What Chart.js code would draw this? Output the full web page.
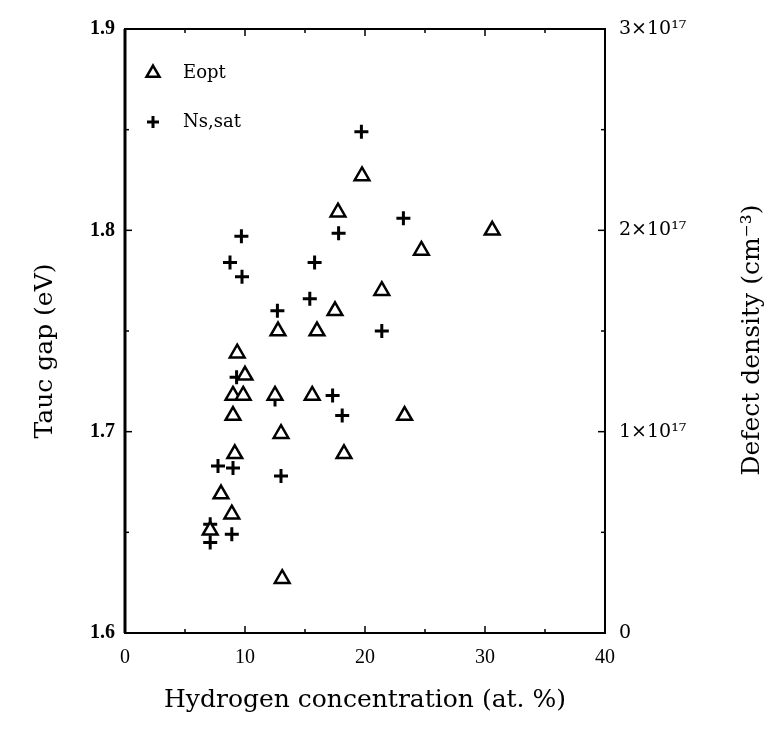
<!DOCTYPE html>
<html>
<head>
<meta charset="utf-8">
<script src="https://cdn.jsdelivr.net/npm/chart.js@4.4.1/dist/chart.umd.min.js"></script>
<style>
  html, body { margin: 0; padding: 0; background: #fff; }
  #wrap { width: 773px; height: 743px; }
</style>
</head>
<body>
<div id="wrap"><canvas id="c" width="773" height="743"></canvas></div>
<script>
// Tauc gap (triangles) and saturated defect density (crosses) vs hydrogen content
const eoptX = [19.75, 17.75, 24.7, 30.6, 21.4, 17.5, 12.75, 16.0, 9.35, 10.0, 9.0, 9.85, 12.5, 15.6, 23.3, 9.0, 13.0, 18.25, 9.15, 8.0, 8.9, 7.1, 13.1];
const eoptY = [1.827, 1.809, 1.79, 1.80, 1.77, 1.76, 1.75, 1.75, 1.739, 1.728, 1.718, 1.718, 1.718, 1.718, 1.708, 1.708, 1.699, 1.689, 1.689, 1.669, 1.659, 1.651, 1.627];

const nsX = [19.7, 17.8, 23.2, 15.8, 9.7, 8.75, 9.75, 15.4, 12.7, 21.4, 9.3, 12.5, 17.3, 18.1, 7.75, 9.0, 13.0, 8.9, 7.1, 7.1];
const nsY = [2.49e17, 1.985e17, 2.06e17, 1.84e17, 1.97e17, 1.84e17, 1.77e17, 1.66e17, 1.60e17, 1.50e17, 1.27e17, 1.16e17, 1.18e17, 1.08e17, 0.83e17, 0.82e17, 0.78e17, 0.49e17, 0.54e17, 0.45e17];

const xTicks = [0, 10, 20, 30, 40];
const yTicks = [1.6, 1.7, 1.8, 1.9];
const y2Ticks = [0, 1e17, 2e17, 3e17];
const y2Labels = ['0', '1×10¹⁷', '2×10¹⁷', '3×10¹⁷'];

const SERIF = "'DejaVu Serif', 'Liberation Serif', serif";
const TIMES = "'Liberation Serif', 'DejaVu Serif', serif";

function fixTicks(values) {
  return scale => { scale.ticks = values.map(v => ({ value: v })); };
}

// frame, inward ticks (major + minor halfway), legend, vertical titles
const frame = {
  id: 'frame',
  afterDraw(chart) {
    const { ctx, chartArea: a, scales: { x, y, y2 } } = chart;
    ctx.save();
    ctx.strokeStyle = '#000';
    ctx.lineWidth = 2;
    ctx.strokeRect(a.left, a.top, a.right - a.left, a.bottom - a.top);
    ctx.lineWidth = 3;
    ctx.beginPath(); ctx.moveTo(a.left, a.top); ctx.lineTo(a.left, a.bottom); ctx.stroke();

    ctx.lineWidth = 1.5;
    const tick = (x1, y1, x2, y2p) => { ctx.beginPath(); ctx.moveTo(x1, y1); ctx.lineTo(x2, y2p); ctx.stroke(); };
    for (let i = 0; i < xTicks.length; i++) {
      const vals = [xTicks[i]];
      if (i < xTicks.length - 1) vals.push((xTicks[i] + xTicks[i + 1]) / 2);
      vals.forEach((v, k) => {
        const px = x.getPixelForValue(v);
        const len = k === 0 ? 7 : 4;
        tick(px, a.bottom, px, a.bottom - len);
        tick(px, a.top, px, a.top + len);
      });
    }
    for (let i = 0; i < yTicks.length; i++) {
      const vals = [yTicks[i]];
      if (i < yTicks.length - 1) vals.push((yTicks[i] + yTicks[i + 1]) / 2);
      vals.forEach((v, k) => {
        const py = y.getPixelForValue(v);
        tick(a.left, py, a.left + (k === 0 ? 7 : 4), py);
      });
    }
    for (let i = 0; i < y2Ticks.length; i++) {
      const vals = [y2Ticks[i]];
      if (i < y2Ticks.length - 1) vals.push((y2Ticks[i] + y2Ticks[i + 1]) / 2);
      vals.forEach((v, k) => {
        const py = y2.getPixelForValue(v);
        tick(a.right, py, a.right - (k === 0 ? 7 : 4), py);
      });
    }

    // legend
    ctx.fillStyle = '#000';
    ctx.font = '18px ' + SERIF;
    ctx.textBaseline = 'middle';
    chart.data.datasets.forEach((ds, i) => {
      const lx = a.left + 28, ly = a.top + 44 + i * 49;
      ctx.save();
      ctx.fillStyle = '#fff';
      ctx.strokeStyle = '#000';
      ctx.lineWidth = ds.pointBorderWidth;
      Chart.helpers.drawPoint(ctx, { pointStyle: ds.pointStyle, radius: ds.pointRadius - 1, rotation: 0, borderWidth: ds.pointBorderWidth }, lx, ly);
      ctx.restore();
      ctx.fillText(ds.label, lx + 30, ly);
    });

    // vertical axis titles, both reading bottom to top
    ctx.font = '25px ' + SERIF;
    ctx.textAlign = 'center';
    [['Tauc gap (eV)', 45, 351], ['Defect density (cm⁻³)', 752, 340]].forEach(([t, tx, ty]) => {
      ctx.save();
      ctx.translate(tx, ty);
      ctx.rotate(-Math.PI / 2);
      ctx.fillText(t, 0, 0);
      ctx.restore();
    });
    ctx.restore();
  }
};

new Chart(document.getElementById('c'), {
  type: 'scatter',
  data: {
    datasets: [
      {
        label: 'Eopt',
        data: eoptX.map((v, i) => ({ x: v, y: eoptY[i] })),
        yAxisID: 'y',
        pointStyle: 'triangle',
        pointRadius: 8.5,
        pointBorderWidth: 2.5,
        borderColor: '#000',
        backgroundColor: '#fff',
      },
      {
        label: 'Ns,sat',
        data: nsX.map((v, i) => ({ x: v, y: nsY[i] })),
        yAxisID: 'y2',
        pointStyle: 'cross',
        pointRadius: 7,
        pointBorderWidth: 3,
        borderColor: '#000',
        backgroundColor: '#000',
      }
    ]
  },
  options: {
    responsive: false,
    animation: false,
    layout: { padding: { top: 29, left: 0, right: 0, bottom: 0 } },
    plugins: { legend: { display: false }, tooltip: { enabled: false } },
    scales: {
      x: {
        type: 'linear', min: 0, max: 40,
        afterBuildTicks: fixTicks(xTicks),
        afterFit: s => { s.height = 110; },
        grid: { display: false, drawTicks: false },
        border: { display: false },
        ticks: { padding: 13, color: '#000', font: { family: TIMES, size: 20 } },
        title: { display: true, text: 'Hydrogen concentration (at. %)', color: '#000',
                 font: { family: SERIF, size: 25 }, padding: { bottom: 28 } },
      },
      y: {
        type: 'linear', position: 'left', min: 1.6, max: 1.9,
        afterBuildTicks: fixTicks(yTicks),
        afterFit: s => { s.width = 125; },
        grid: { display: false, drawTicks: false },
        border: { display: false },
        ticks: { padding: 10, color: '#000', font: { family: TIMES, size: 20, weight: 'bold' },
                 callback: v => v.toFixed(1) },
      },
      y2: {
        type: 'linear', position: 'right', min: 0, max: 3e17,
        afterBuildTicks: fixTicks(y2Ticks),
        afterFit: s => { s.width = 168; },
        grid: { display: false, drawTicks: false },
        border: { display: false },
        ticks: { padding: 14, color: '#000', font: { family: SERIF, size: 19 },
                 callback: v => y2Labels[y2Ticks.indexOf(v)] },
      }
    }
  },
  plugins: [frame]
});
</script>
</body>
</html>
